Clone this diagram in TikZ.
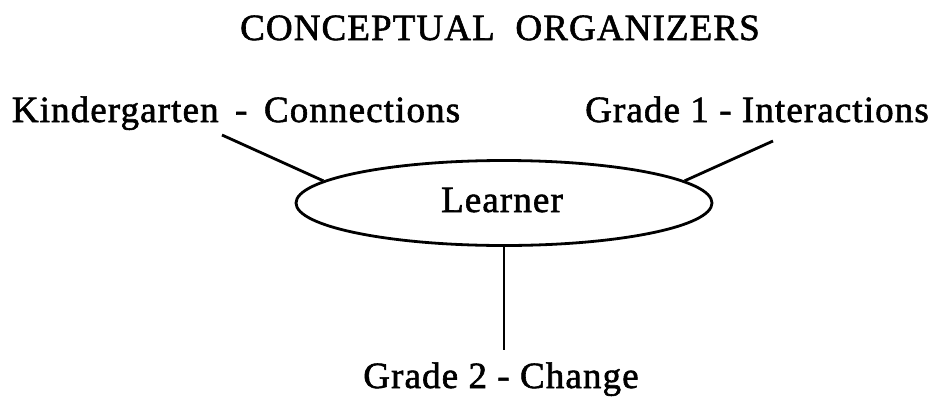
\documentclass[tikz,border=0pt]{standalone}
\usepackage{fontspec}
\setmainfont{Liberation Serif}[LetterSpace=3,FakeBold=1.6]
\usetikzlibrary{shapes.geometric}
\begin{document}
\begin{tikzpicture}[x=1pt,y=-1pt,
  lbl/.style={anchor=base,inner sep=0pt,font=\fontsize{37}{42}\selectfont},
  conn/.style={line width=2.8pt,draw=black}]
\useasboundingbox (0,0) rectangle (943,397);
\node[lbl] (title) at (500,40) {CONCEPTUAL\ \ ORGANIZERS};
\node[lbl] (kc) at (236,122) {Kindergarten \,-\, Connections};
\node[lbl] (g1) at (757,122) {Grade 1 - Interactions};
\node[lbl] (g2) at (501,388) {Grade 2 - Change};
\node[ellipse,draw,line width=2.8pt,minimum width=416pt,minimum height=85pt,inner sep=0pt] (learner) at (504,203) {};
\node[lbl] (lt) at (502,212) {Learner};
\coordinate (kcend) at (222,135);
\coordinate (g1end) at (773,141);
\coordinate (g2end) at (504,350);
\draw[conn] (kcend) -- (learner.173);
\draw[conn] (g1end) -- (learner.7);
\draw[conn] (learner.south) -- (g2end);
\end{tikzpicture}
\end{document}
